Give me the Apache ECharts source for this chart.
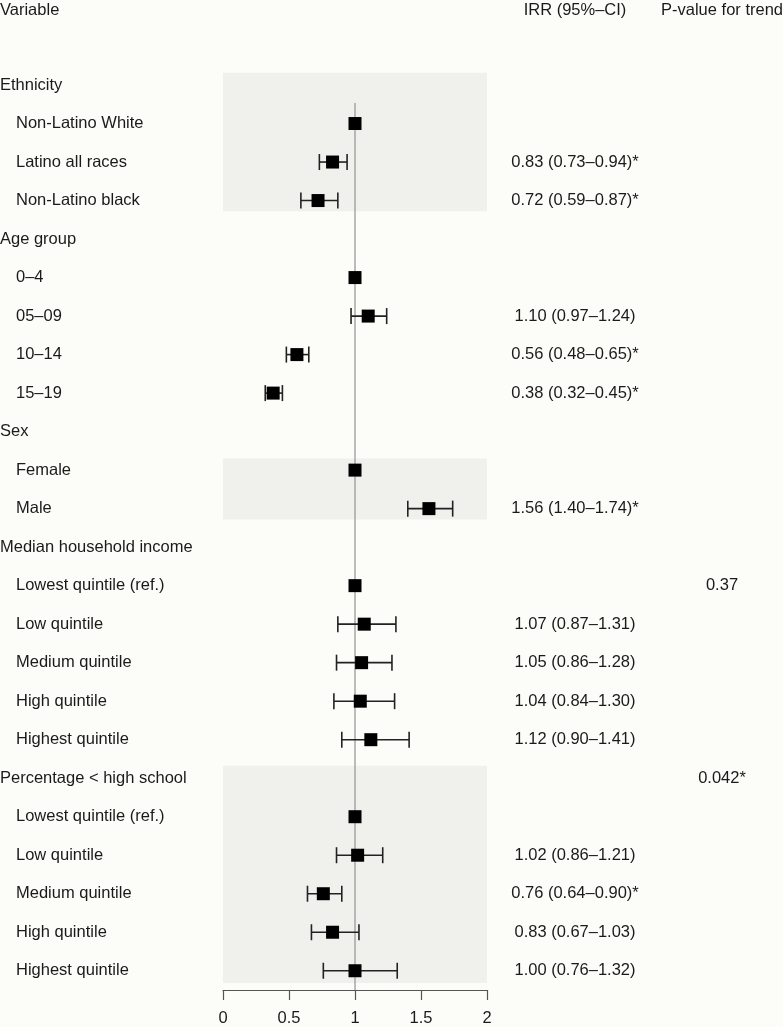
<!DOCTYPE html>
<html>
<head>
<meta charset="utf-8">
<script src="https://cdn.jsdelivr.net/npm/echarts@6/dist/echarts.min.js"></script>
<style>
html,body{margin:0;padding:0;background:#fcfcf8;}
#chart{width:783px;height:1027px;}
</style>
</head>
<body>
<div id="chart"></div>
<script>
const labels = ['Ethnicity','Non-Latino White','Latino all races','Non-Latino black',
  'Age group','0–4','05–09','10–14','15–19',
  'Sex','Female','Male',
  'Median household income','Lowest quintile (ref.)','Low quintile','Medium quintile','High quintile','Highest quintile',
  'Percentage < high school','Lowest quintile (ref.)','Low quintile','Medium quintile','High quintile','Highest quintile'];
const isHeader = [1,0,0,0, 1,0,0,0,0, 1,0,0, 1,0,0,0,0,0, 1,0,0,0,0,0];
const est = [null,1,0.83,0.72, null,1,1.10,0.56,0.38, null,1,1.56, null,1,1.07,1.05,1.04,1.12, null,1,1.02,0.76,0.83,1.00];
const lo  = [null,null,0.73,0.59, null,null,0.97,0.48,0.32, null,null,1.40, null,null,0.87,0.86,0.84,0.90, null,null,0.86,0.64,0.67,0.76];
const hi  = [null,null,0.94,0.87, null,null,1.24,0.65,0.45, null,null,1.74, null,null,1.31,1.28,1.30,1.41, null,null,1.21,0.90,1.03,1.32];
const sig = [0,0,1,1, 0,0,0,1,1, 0,0,1, 0,0,0,0,0,0, 0,0,0,1,0,0];
const pTrend = [null,null,null,null, null,null,null,null,null, null,null,null, null,'0.37',null,null,null,null, '0.042*',null,null,null,null,null];
const shadeBands = [[-0.32,3.28],[9.7,11.28],[17.68,23.32]];
const xTicks = [0,0.5,1,1.5,2];

const FONT = '"Liberation Sans", Arial, Helvetica, sans-serif';
const FS = 16.5;
const TXT = '#1a1a1a';

function irrText(i){
  if (lo[i] == null) return '';
  return est[i].toFixed(2) + ' (' + lo[i].toFixed(2) + '–' + hi[i].toFixed(2) + ')' + (sig[i] ? '*' : '');
}

const chart = echarts.init(document.getElementById('chart'), null, {renderer:'canvas'});
const option = {
  backgroundColor: '#fcfcf8',
  animation: false,
  grid: {left: 223, right: 296, top: 8, bottom: 37, containLabel: false},
  xAxis: {
    type: 'value', min: 0, max: 2, interval: 0.5,
    axisLine: {show: true, onZero: false, lineStyle: {color: '#555', width: 1.2}},
    axisTick: {show: true, length: 10, lineStyle: {color: '#555', width: 1.2}},
    axisLabel: {color: TXT, fontSize: FS, fontFamily: FONT, margin: 20,
      formatter: v => xTicks.includes(v) ? String(v) : ''},
    splitLine: {show: false}
  },
  yAxis: {
    type: 'value', min: -2, max: 23.5, inverse: true, show: false
  },
  graphic: [
    {type:'text', x: 0, y: 10, style:{text:'Variable', fill: TXT, fontSize: FS, fontFamily: FONT, align:'left', verticalAlign:'middle'}},
    {type:'text', x: 575, y: 10, style:{text:'IRR (95%–CI)', fill: TXT, fontSize: FS, fontFamily: FONT, align:'center', verticalAlign:'middle'}},
    {type:'text', x: 722, y: 10, style:{text:'P-value for trend', fill: TXT, fontSize: FS, fontFamily: FONT, align:'center', verticalAlign:'middle'}}
  ],
  series: [
    {
      type: 'custom', z: 1, silent: true,
      data: shadeBands,
      renderItem: (params, api) => {
        const p1 = api.coord([0, api.value(0)]);
        const p2 = api.coord([2, api.value(1)]);
        return {type:'rect', shape:{x:p1[0], y:p1[1], width:p2[0]-p1[0], height:p2[1]-p1[1]},
          style:{fill:'#f0f0ed'}};
      }
    },
    {
      type: 'line', z: 2, silent: true, symbol: 'none',
      data: [[1, 0.47], [1, 23.5]],
      lineStyle: {color: '#9a9a9a', width: 1.3}
    },
    {
      type: 'custom', z: 3, silent: true,
      data: est.map((e, i) => [lo[i] == null ? 1 : lo[i], hi[i] == null ? 1 : hi[i], i]),
      renderItem: (params, api) => {
        const i = params.dataIndex;
        if (lo[i] == null) return null;
        const a = api.coord([lo[i], i]);
        const b = api.coord([hi[i], i]);
        const st = {stroke:'#222', lineWidth:1.6};
        const cap = 8;
        return {type:'group', children:[
          {type:'line', shape:{x1:a[0], y1:a[1], x2:b[0], y2:b[1]}, style:st},
          {type:'line', shape:{x1:a[0], y1:a[1]-cap, x2:a[0], y2:a[1]+cap}, style:st},
          {type:'line', shape:{x1:b[0], y1:b[1]-cap, x2:b[0], y2:b[1]+cap}, style:st}
        ]};
      }
    },
    {
      type: 'scatter', z: 4, silent: true,
      symbol: 'rect', symbolSize: 13,
      itemStyle: {color: '#000', opacity: 1},
      data: est.map((e, i) => e == null ? null : [e, i]).filter(d => d)
    },
    {
      type: 'custom', z: 5, silent: true, clip: false,
      data: labels.map((l, i) => [0, i]),
      renderItem: (params, api) => {
        const i = params.dataIndex;
        const y = api.coord([0, i])[1];
        const children = [
          {type:'text', x: isHeader[i] ? 0 : 16, y: y,
            style:{text: labels[i], fill: TXT, fontSize: FS, fontFamily: FONT, align:'left', verticalAlign:'middle'}}
        ];
        const t = irrText(i);
        if (t) children.push({type:'text', x: 575, y: y,
            style:{text: t, fill: TXT, fontSize: FS, fontFamily: FONT, align:'center', verticalAlign:'middle'}});
        if (pTrend[i]) children.push({type:'text', x: 722, y: y,
            style:{text: pTrend[i], fill: TXT, fontSize: FS, fontFamily: FONT, align:'center', verticalAlign:'middle'}});
        return {type:'group', children};
      }
    }
  ]
};
chart.setOption(option);
</script>
</body>
</html>
